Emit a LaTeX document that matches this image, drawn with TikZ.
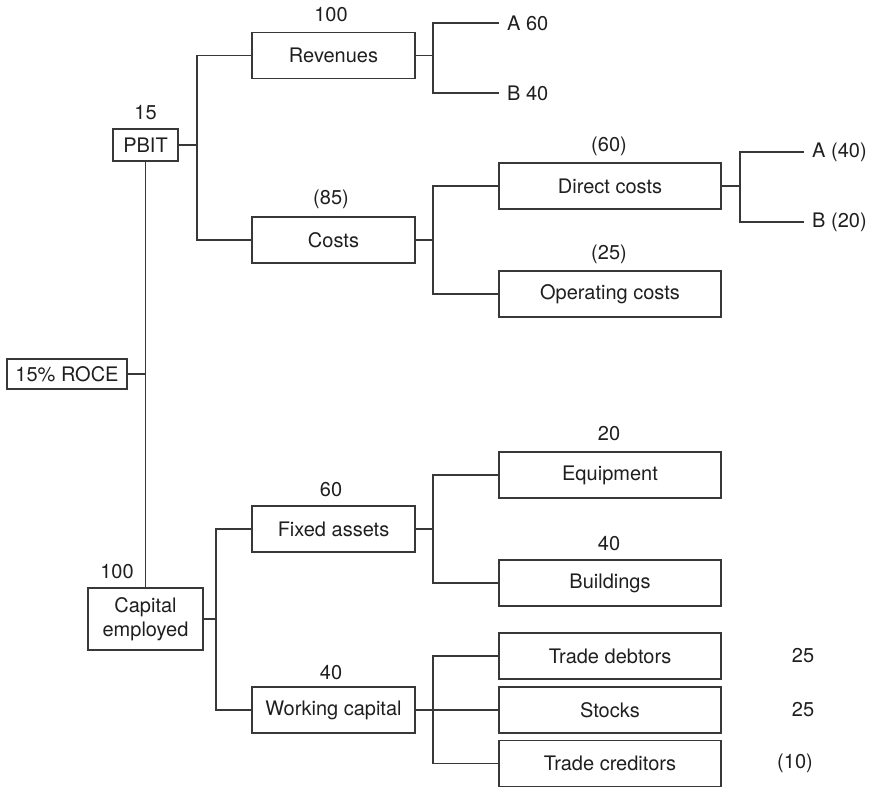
\documentclass[tikz,border=0pt]{standalone}
\usepackage{fontspec}
\setmainfont{TeX Gyre Heros}
\begin{document}
\begin{tikzpicture}[x=1pt,y=-1pt,
  every node/.style={font=\fontsize{20}{24}\selectfont, text=black!88},
  box/.style={draw=black!78, line width=1.2pt, inner sep=0pt, align=center},
  smallbox/.style={box, minimum width=163pt, minimum height=46pt},
  widebox/.style={box, minimum width=222pt, minimum height=46pt},
  val/.style={inner sep=0pt},
  leaf/.style={anchor=west, inner xsep=8pt, inner ysep=0pt},
  link/.style={draw=black!78, line width=1.2pt}]
\useasboundingbox (0,0) rectangle (871,787);

% top level
\node[box, minimum width=65pt, minimum height=32pt] (pbit) at (145.5,145) {PBIT};
\node[val] (vpbit) at (145.5,113) {15};
\node[box, minimum width=120pt, minimum height=30pt] (roce) at (67,374) {15\% ROCE};
\node[box, minimum width=115pt, minimum height=62pt] (cap) at (145.5,619) {Capital\\employed};
\node[val] (vcap) at (117,572) {100};

% profit branch
\node[smallbox] (rev) at (333.5,55.5) {Revenues};
\node[val] (vrev) at (331,15) {100};
\node[smallbox] (costs) at (333.5,240) {Costs};
\node[val] (vcosts) at (331,199) {(85)};
\node[widebox] (direct) at (610,186) {Direct costs};
\node[val] (vdirect) at (609,146) {(60)};
\node[widebox] (opcost) at (610,294) {Operating costs};
\node[val] (vopcost) at (609,254) {(25)};
\node[leaf] (ra) at (499,23) {A 60};
\node[leaf] (rb) at (499,93) {B 40};
\node[leaf] (da) at (804,152) {A (40)};
\node[leaf] (db) at (804,222) {B (20)};

% capital branch
\node[smallbox] (fixed) at (333.5,529) {Fixed assets};
\node[val] (vfixed) at (331,490) {60};
\node[smallbox] (work) at (333.5,710) {Working capital};
\node[val] (vwork) at (331,673) {40};
\node[widebox] (equip) at (610,475) {Equipment};
\node[val] (vequip) at (609,434) {20};
\node[widebox] (build) at (610,583) {Buildings};
\node[val] (vbuild) at (609,544) {40};
\node[widebox] (debt) at (610,656) {Trade debtors};
\node[val] (vdebt) at (803,656) {25};
\node[widebox] (stock) at (610,710) {Stocks};
\node[val] (vstock) at (803,710) {25};
\node[widebox] (cred) at (610,763.5) {Trade creditors};
\node[val] (vcred) at (795,763.5) {(10)};

% junction points of the brackets
\coordinate (jp) at (197,145);
\coordinate (jrev) at (433,55.5);
\coordinate (jc) at (433,240);
\coordinate (jd) at (740,186);
\coordinate (jroce) at (145.5,374);
\coordinate (jcap) at (216,619);
\coordinate (jf) at (433,529);
\coordinate (jw) at (433,710);

% connectors
\draw[link] (pbit.south) -- (cap.north);
\draw[link] (roce.east) -- (jroce);
\draw[link] (pbit.east) -- (jp);
\draw[link] (rev.west) -| (jp) |- (costs.west);
\draw[link] (rev.east) -- (jrev);
\draw[link] (ra.west) -| (jrev) |- (rb.west);
\draw[link] (costs.east) -- (jc);
\draw[link] (direct.west) -| (jc) |- (opcost.west);
\draw[link] (direct.east) -- (jd);
\draw[link] (da.west) -| (jd) |- (db.west);
\draw[link] (cap.east) -- (jcap);
\draw[link] (fixed.west) -| (jcap) |- (work.west);
\draw[link] (fixed.east) -- (jf);
\draw[link] (equip.west) -| (jf) |- (build.west);
\draw[link] (work.east) -- (jw) -- (stock.west);
\draw[link] (debt.west) -| (jw) |- (cred.west);
\end{tikzpicture}
\end{document}
